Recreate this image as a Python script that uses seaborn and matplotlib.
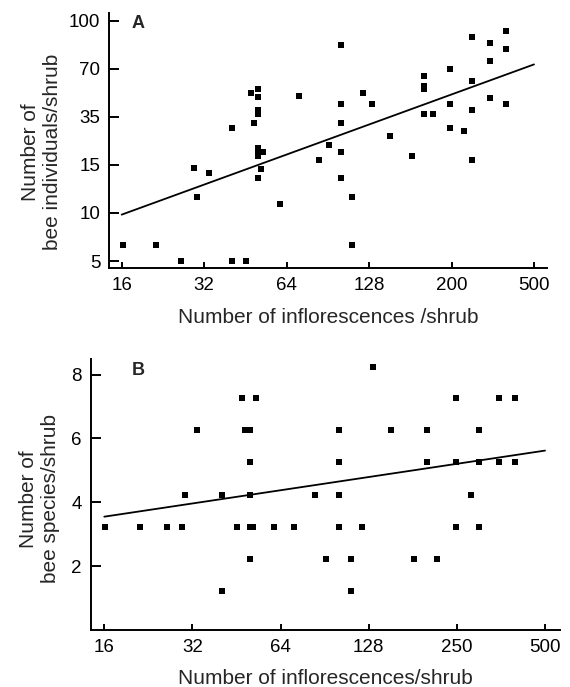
import numpy as np
import pandas as pd
import matplotlib
matplotlib.use("Agg")
import matplotlib.pyplot as plt
from matplotlib.ticker import NullLocator
import seaborn as sns

# ---------------- data ----------------
# Panel A
a_xticks = [16, 32, 64, 128, 200, 500]
a_yticks = [5, 10, 15, 35, 70, 100]
a_inflor = [16.2, 21.3, 26.3, 29.4, 30.2, 33.3, 40.4, 40.4, 45.5, 47.3,
            48.5, 50.4, 50.4, 50.4, 50.4, 50.4, 50.4, 50.4, 50.4, 51.7,
            52.6, 60.4, 71.0, 84.0, 91.2, 100.9, 100.9, 100.9, 100.9, 100.9,
            111.2, 111.2, 121.2, 130.3, 143.2, 161.1, 171.9, 171.9, 171.9, 171.9,
            180.6, 198.4, 198.4, 198.4, 229.5, 251.7, 251.7, 251.7, 251.7, 307.9,
            307.9, 307.9, 366.5, 366.5, 366.5]
a_bees = [6.3, 6.3, 5.0, 14.6, 11.4, 14.0, 28.8, 5.0, 5.0, 49.3,
          31.3, 52.2, 46.7, 38.5, 36.6, 20.1, 18.9, 17.6, 13.4, 14.5,
          18.8, 10.8, 47.0, 16.3, 21.2, 83.3, 42.0, 31.3, 18.8, 13.4,
          11.4, 6.3, 49.3, 42.0, 24.9, 17.5, 63.0, 54.5, 52.2, 36.4,
          36.4, 69.7, 42.0, 28.7, 27.5, 88.6, 58.6, 38.5, 16.3, 84.7,
          74.1, 45.6, 92.6, 81.2, 42.0]
a_fit_x = [16, 500]
a_fit_y = [9.76, 72.3]

# Panel B
b_xticks = [16, 32, 64, 128, 250, 500]
b_yticks = [2, 4, 6, 8]
b_inflor = [16.1, 21.2, 26.3, 29.4, 30.3, 33.3, 40.5, 40.5, 45.6, 47.4,
            48.5, 50.5, 50.5, 50.5, 50.5, 50.5, 51.6, 52.7, 60.6, 71.2,
            84.0, 91.3, 101.2, 101.2, 101.2, 101.2, 111.3, 111.3, 121.2, 131.9,
            151.5, 180.3, 199.8, 199.8, 215.3, 248.0, 248.0, 248.0, 278.7, 298.5,
            298.5, 298.5, 348.4, 348.4, 396.4, 396.4]
b_species = [3.23, 3.23, 3.23, 3.23, 4.22, 6.25, 4.22, 1.23, 3.23, 7.26,
             6.25, 6.25, 5.25, 4.22, 3.23, 2.23, 3.23, 7.26, 3.23, 3.23,
             4.22, 2.23, 6.25, 5.25, 4.22, 3.23, 2.23, 1.23, 3.23, 8.25,
             6.25, 2.23, 6.25, 5.25, 2.23, 7.26, 5.25, 3.23, 4.22, 6.25,
             5.25, 3.23, 7.26, 5.25, 7.26, 5.25]
b_fit_x = [16, 500]
b_fit_y = [3.55, 5.62]

# ---------------- helpers ----------------
def piecewise_log_scale(ticks):
    """Evenly spaced ticks; piecewise-log between them, linear extrapolation."""
    lt = np.log(np.asarray(ticks, float))
    pos = np.arange(len(lt), dtype=float)

    def fwd(v):
        v = np.asarray(v, float)
        with np.errstate(divide="ignore", invalid="ignore"):
            l = np.log(np.where(v > 0, v, np.nan))
        out = np.interp(l, lt, pos)
        out = np.where(l < lt[0], (l - lt[0]) / (lt[1] - lt[0]), out)
        out = np.where(l > lt[-1], pos[-1] + (l - lt[-1]) / (lt[-1] - lt[-2]), out)
        return out

    def inv(p):
        p = np.asarray(p, float)
        l = np.interp(p, pos, lt)
        l = np.where(p < 0, lt[0] + p * (lt[1] - lt[0]), l)
        l = np.where(p > pos[-1], lt[-1] + (p - pos[-1]) * (lt[-1] - lt[-2]), l)
        return np.exp(l)

    return fwd, inv


sns.set_theme(style="ticks")
plt.rcParams["font.family"] = ["Liberation Sans", "DejaVu Sans"]

TICK_FS = 13.5
LABEL_FS = 15

fig = plt.figure(figsize=(5.7, 6.87), dpi=100)
W, H = 570, 687


def add_axes_px(left, right, top, bottom):
    return fig.add_axes([left / W, 1 - bottom / H, (right - left) / W, (bottom - top) / H])


def style_axes(ax):
    sns.despine(ax=ax)
    for s in ("left", "bottom"):
        ax.spines[s].set_linewidth(1.4)
        ax.spines[s].set_color("black")
    ax.tick_params(axis="both", direction="in", width=1.4, colors="black",
                   labelsize=TICK_FS, pad=6.5)
    ax.tick_params(axis="y", length=7)
    ax.tick_params(axis="x", length=4.3)
    ax.set_facecolor("white")


# ---------------- Panel A ----------------
axA = add_axes_px(109.3, 546.7, 13.3, 267.7)
fx, ix = piecewise_log_scale(a_xticks)
fy, iy = piecewise_log_scale(a_yticks)
axA.set_xscale("function", functions=(fx, ix))
axA.set_yscale("function", functions=(fy, iy))

dfA = pd.DataFrame({"inflor": a_inflor, "bees": a_bees})
sns.scatterplot(data=dfA, x="inflor", y="bees", ax=axA, marker="s", s=19,
                color="black", linewidth=0, zorder=3)
sns.lineplot(x=a_fit_x, y=a_fit_y, ax=axA, color="black", linewidth=1.3,
             estimator=None, sort=False, zorder=2)

axA.set_xlim(float(ix(-0.15)), float(ix(5.154)))
axA.set_ylim(float(iy(-0.139)), float(iy(5.154)))
axA.set_xticks(a_xticks)
axA.set_xticklabels([str(t) for t in a_xticks])
axA.set_yticks(a_yticks)
axA.set_yticklabels([str(t) for t in a_yticks])
axA.xaxis.set_minor_locator(NullLocator())
axA.yaxis.set_minor_locator(NullLocator())
style_axes(axA)
axA.set_xlabel("Number of inflorescences /shrub", fontsize=LABEL_FS, va="top")
axA.xaxis.set_label_coords(0.5, -0.158)
axA.set_ylabel("Number of\nbee individuals/shrub", fontsize=LABEL_FS, va="center")
axA.yaxis.set_label_coords(-0.155, 0.455)
axA.text(0.051, 0.993, "A", transform=axA.transAxes, fontsize=13,
         fontweight="bold", ha="left", va="top")

# ---------------- Panel B ----------------
axB = add_axes_px(90.7, 560.0, 359.3, 630.0)
gx, jx = piecewise_log_scale(b_xticks)
axB.set_xscale("function", functions=(gx, jx))

dfB = pd.DataFrame({"inflor": b_inflor, "species": b_species})
sns.scatterplot(data=dfB, x="inflor", y="species", ax=axB, marker="s", s=19,
                color="black", linewidth=0, zorder=3)
sns.lineplot(x=b_fit_x, y=b_fit_y, ax=axB, color="black", linewidth=1.3,
             estimator=None, sort=False, zorder=2)

axB.set_xlim(float(jx(-0.154)), float(jx(5.17)))
axB.set_ylim(0, 8.48)
axB.set_xticks(b_xticks)
axB.set_xticklabels([str(t) for t in b_xticks])
axB.set_yticks(b_yticks)
axB.set_yticklabels([str(t) for t in b_yticks])
axB.xaxis.set_minor_locator(NullLocator())
axB.yaxis.set_minor_locator(NullLocator())
style_axes(axB)
axB.set_xlabel("Number of inflorescences/shrub", fontsize=LABEL_FS, va="top")
axB.xaxis.set_label_coords(0.5, -0.145)
axB.set_ylabel("Number of\nbee species/shrub", fontsize=LABEL_FS, va="center")
axB.yaxis.set_label_coords(-0.110, 0.484)
axB.text(0.087, 0.991, "B", transform=axB.transAxes, fontsize=13,
         fontweight="bold", ha="left", va="top")

fig.savefig("out.png", dpi=100, facecolor="white")
